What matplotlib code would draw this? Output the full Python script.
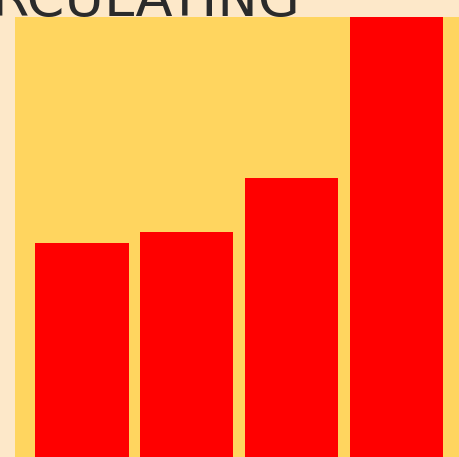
# Столбчатая диаграмма (обрезанный фрагмент)

import matplotlib.pyplot as plt

# Данные
categories = ['A', 'B', 'C', 'D']
values = [58, 60, 70, 100]
title = 'CIRCULATING'

# Цвета
fig_bg = '#fde8c9'
ax_bg = '#ffd55f'
bar_color = '#ff0000'

fig = plt.figure(figsize=(4.6, 4.57), dpi=100, facecolor=fig_bg)

# Оси выходят за нижний край картинки
ax = fig.add_axes([15 / 460, -0.2131, 445 / 460, 1.1759])
ax.set_facecolor(ax_bg)

x = range(len(categories))
ax.bar(x, values, width=0.89, color=bar_color)

ax.set_xlim(-0.638, 3.607)
ax.set_ylim(0, 100)
ax.set_xticks([])
ax.set_yticks([])
for s in ax.spines.values():
    s.set_visible(False)

# Заголовок, верх которого обрезан (как на исходной картинке)
fig.text(300 / 460, 1 - 16 / 457, title, ha='right', va='baseline',
         fontsize=39, color='#2b2b2b')

fig.savefig('out.png', dpi=100, facecolor=fig_bg)
